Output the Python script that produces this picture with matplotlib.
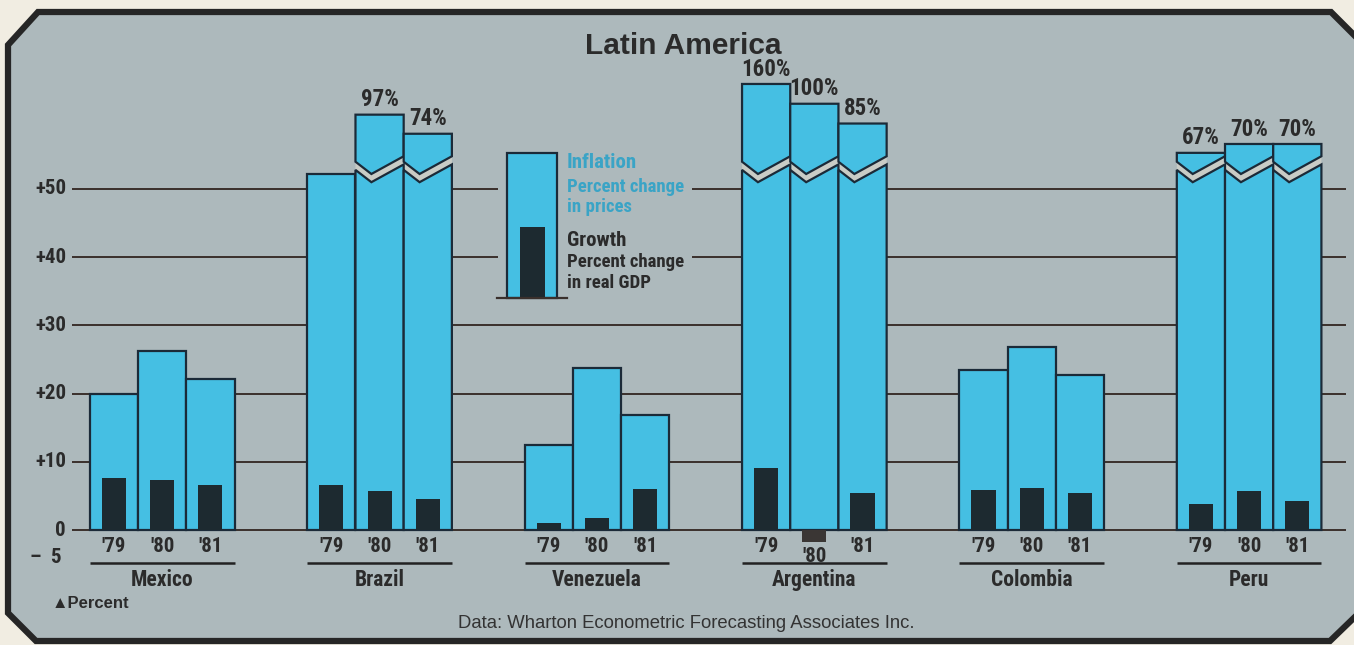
import matplotlib
matplotlib.use("Agg")
import matplotlib.pyplot as plt
from matplotlib.patches import Polygon, Rectangle
from matplotlib import font_manager as fm

# ---------------- data ----------------
countries = ["Mexico", "Brazil", "Venezuela", "Argentina", "Colombia", "Peru"]
years = ["'79", "'80", "'81"]
inflation = [
    [20.0, 26.3, 22.1],
    [52.2, 97, 74],
    [12.4, 23.8, 16.8],
    [160, 100, 85],
    [23.5, 26.9, 22.8],
    [67, 70, 70],
]
# drawn (compressed) heights of the broken bars
inflation_drawn = [
    [20.0, 26.3, 22.1],
    [52.2, 60.9, 58.1],
    [12.4, 23.8, 16.8],
    [65.4, 62.5, 59.6],
    [23.5, 26.9, 22.8],
    [55.3, 56.6, 56.6],
]
growth = [
    [7.6, 7.4, 6.6],
    [6.6, 5.7, 4.6],
    [1.0, 1.7, 6.0],
    [9.1, -1.8, 5.4],
    [5.9, 6.2, 5.4],
    [3.8, 5.7, 4.3],
]
yticks = [50, 40, 30, 20, 10, 0]
ytick_labels = ["+50", "+40", "+30", "+20", "+10", "0"]
title = "Latin America"
source = "Data: Wharton Econometric Forecasting Associates Inc."

# ---------------- style ----------------
W, H = 1354, 645
PANEL = "#adb9bc"
OUTER = "#f1ede2"
BLUE = "#45bfe3"
DARK = "#1d2a30"
EDGE = "#1b2a38"
TXT = "#2b2b2b"
GAP = "#c9ccc6"
LEGBLUE = "#3aa4c6"
available = {f.name for f in fm.fontManager.ttflist}
narrow_pref = [n for n in ["Liberation Sans Narrow", "Roboto Condensed",
                           "Roboto", "DejaVu Sans"] if n in available]
NARROW = narrow_pref + (["DejaVu Sans"] if "DejaVu Sans" not in narrow_pref else [])
SANS = ["Liberation Sans", "DejaVu Sans"]

fig = plt.figure(figsize=(W / 100, H / 100), dpi=100)
fig.patch.set_facecolor(OUTER)
ax = fig.add_axes([0, 0, 1, 1])
ax.set_axis_off()
PX = 6.82      # pixels per percent
BW = 48.2      # pixels per bar
x0px, y0px = 114, 530
ax.set_xlim(-x0px / BW, (W - x0px) / BW)
ax.set_ylim((y0px - H) / PX, y0px / PX)


def P(x, y):
    return (x / W, 1 - y / H)


frame = [P(8, 45), P(38, 12), P(1331, 12), P(1360, 41), P(1360, 612),
         P(1330, 641), P(36, 641), P(8, 613)]
ax.add_patch(Polygon(frame, closed=True, transform=ax.transAxes,
                     facecolor=PANEL, edgecolor="#262626", lw=4.5, zorder=0,
                     clip_on=False))

# gridlines
gx0, gx1 = (72 - x0px) / BW, (1346 - x0px) / BW
for v in yticks:
    ax.plot([gx0, gx1], [v, v], color="#3a302c", lw=1.4, zorder=1,
            solid_capstyle="butt")

# y tick labels
for v, lab in zip(yticks, ytick_labels):
    ax.text((66 - x0px) / BW, v, lab, ha="right", va="center",
            family=NARROW, weight="bold", fontsize=15, color=TXT)
ax.text((62 - x0px) / BW, -4.1, "–  5", ha="right", va="center",
        family=NARROW, weight="bold", fontsize=15, color=TXT)

SPACING = 4.51
CAP = 55
zl_lo = [52.8, 51.0, 53.6]     # zigzag (lower piece top) at left, valley, right
zfrac = 0.33
ZGAP = 1.2

for g, country in enumerate(countries):
    base = g * SPACING
    for j in range(3):
        xc = base + j
        xl, xr = xc - 0.5, xc + 0.5
        val = inflation[g][j]
        top = inflation_drawn[g][j]
        if val > CAP:
            lo = [(xr, zl_lo[2]), (xl + zfrac, zl_lo[1]), (xl, zl_lo[0])]
            lower = [(xl, 0), (xr, 0)] + lo
            ax.add_patch(Polygon(lower, closed=True, facecolor=BLUE,
                                 edgecolor=EDGE, lw=1.6, zorder=3))
            up = [(xl, zl_lo[0] + ZGAP), (xl + zfrac, zl_lo[1] + ZGAP),
                  (xr, zl_lo[2] + ZGAP)]
            gap = [(xl, zl_lo[0]), (xl + zfrac, zl_lo[1]), (xr, zl_lo[2])] + up[::-1]
            ax.add_patch(Polygon(gap, closed=True, facecolor=GAP,
                                 edgecolor="none", zorder=2.5))
            upper = up + [(xr, top), (xl, top)]
            ax.add_patch(Polygon(upper, closed=True, facecolor=BLUE,
                                 edgecolor=EDGE, lw=1.6, zorder=3))
            ax.text(xc, top + 0.5, f"{val:g}%", ha="center", va="bottom",
                    family=NARROW, weight="bold", fontsize=16.5, color=TXT)
        else:
            ax.add_patch(Rectangle((xl, 0), 1, top, facecolor=BLUE,
                                   edgecolor=EDGE, lw=1.6, zorder=3))
        gv = growth[g][j]
        ax.add_patch(Rectangle((xc - 0.25, 0), 0.5, gv,
                               facecolor=DARK if gv >= 0 else "#3a3634",
                               edgecolor="none", zorder=4))
        ly = -2.35 if gv >= 0 else -3.95
        ax.text(xc, ly, years[j], ha="center", va="center",
                family=NARROW, weight="bold", fontsize=15, color=TXT)
    ax.plot([base - 0.5, base + 2.5], [-4.9, -4.9], color="#222", lw=1.8,
            zorder=2, solid_capstyle="butt")
    ax.text(base + 1, -7.4, country, ha="center", va="center",
            family=NARROW, weight="bold", fontsize=15.5, color=TXT)

# legend
lx0, lx1 = (507 - x0px) / BW, (557 - x0px) / BW
lb, lt = (y0px - 298) / PX, (y0px - 153) / PX
ax.add_patch(Rectangle(((498 - x0px) / BW, lb), (692 - 498) / BW, lt - lb + 1,
                       facecolor=PANEL, edgecolor="none", zorder=1.5))
ax.add_patch(Rectangle((lx0, lb), lx1 - lx0, lt - lb, facecolor=BLUE,
                       edgecolor=EDGE, lw=1.6, zorder=3))
ax.add_patch(Rectangle(((520 - x0px) / BW, lb), 25 / BW, (298 - 227) / PX,
                       facecolor=DARK, edgecolor="none", zorder=4))
ax.plot([(497 - x0px) / BW, (567 - x0px) / BW], [lb, lb], color="#3a302c",
        lw=1.6, zorder=5)
lx = (567 - x0px) / BW
for ypx, s, c, fs in [(162, "Inflation", LEGBLUE, 15),
                      (187, "Percent change", LEGBLUE, 13.5),
                      (207, "in prices", LEGBLUE, 13.5),
                      (240, "Growth", TXT, 15),
                      (262, "Percent change", TXT, 13.5),
                      (283, "in real GDP", TXT, 13.5)]:
    ax.text(lx, (y0px - ypx) / PX, s, ha="left", va="center", family=NARROW,
            weight="bold", fontsize=fs, color=c)

# title / notes
ax.text((683 - x0px) / BW, (y0px - 46) / PX, title, ha="center", va="center",
        family=SANS, weight="bold", fontsize=21.5, color=TXT)
ax.text((52 - x0px) / BW, (y0px - 603) / PX, "▲Percent", ha="left",
        va="center", family=SANS, weight="bold", fontsize=12, color=TXT)
ax.text((686 - x0px) / BW, (y0px - 624) / PX, source, ha="center",
        va="center", family=SANS, fontsize=13.3, color="#333")

fig.savefig("out.png", dpi=100, facecolor=OUTER)
